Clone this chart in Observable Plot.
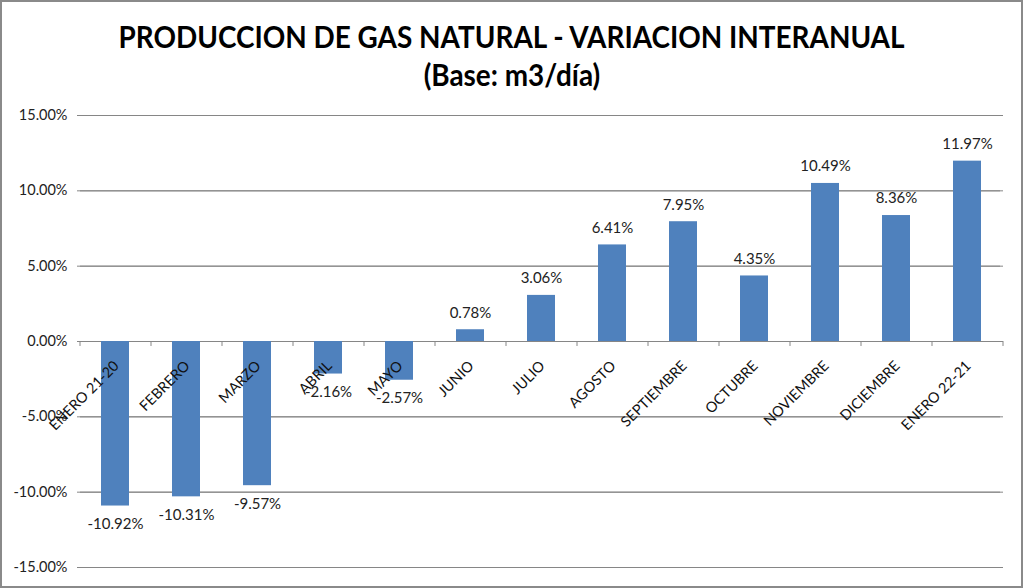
<!DOCTYPE html>
<html>
<head>
<meta charset="utf-8">
<script src="https://cdn.jsdelivr.net/npm/d3@7"></script>
<script src="https://cdn.jsdelivr.net/npm/@observablehq/plot@0.6"></script>
<style>
  html, body { margin: 0; padding: 0; background: #fff; }
  #wrap { width: 1023px; height: 588px; box-sizing: border-box; border: 2px solid #8a8a8a; background: #fff; overflow: hidden; }
  #title { height: 100px; text-align: center; font-family: "Lato", sans-serif; font-weight: bold; color: #000; font-size: 30px; line-height: 38px; padding-top: 15px; box-sizing: border-box; }
  #title span { display: inline-block; transform: scaleX(0.93); white-space: nowrap; }
  #chart svg { display: block; }
</style>
</head>
<body>
<div id="wrap">
  <div id="title"><span>PRODUCCION DE GAS NATURAL - VARIACION INTERANUAL</span><br><span>(Base: m3/día)</span></div>
  <div id="chart"></div>
</div>
<script>
const categories = ["ENERO 21-20", "FEBRERO", "MARZO", "ABRIL", "MAYO", "JUNIO", "JULIO", "AGOSTO", "SEPTIEMBRE", "OCTUBRE", "NOVIEMBRE", "DICIEMBRE", "ENERO 22-21"];
const values = [-10.92, -10.31, -9.57, -2.16, -2.57, 0.78, 3.06, 6.41, 7.95, 4.35, 10.49, 8.36, 11.97];
const yTicks = [-15, -10, -5, 0, 5, 10, 15];

const data = categories.map((c, i) => ({cat: c, v: values[i]}));

const W = 1019, H = 484;
const mL = 78, mR = 18, mT = 13, mB = 19;
const step = (W - mL - mR) / categories.length;
const fmt = d => d.toFixed(2) + "%";
const font = "Lato, sans-serif";
const grid = "#868686";

const chart = Plot.plot({
  width: W,
  height: H,
  marginLeft: mL,
  marginRight: mR,
  marginTop: mT,
  marginBottom: mB,
  style: {fontFamily: font, background: "#fff"},
  x: {domain: categories, paddingInner: 0.6, paddingOuter: 0.3, axis: null},
  y: {domain: [-15, 15], axis: null},
  marks: [
    Plot.ruleY(yTicks, {stroke: grid, strokeWidth: 1}),
    Plot.tickY(yTicks, {frameAnchor: "left", dx: -3, stroke: grid}),
    Plot.ruleX([0], {frameAnchor: "left", stroke: grid}),
    Plot.text(yTicks, {y: d => d, frameAnchor: "left", text: fmt, textAnchor: "end", dx: -13, fontSize: 14.5, fill: "#222"}),
    Plot.barY(data, {x: "cat", y: "v", fill: "#4f81bd"}),
    Plot.ruleX(categories, {x: d => d, y1: 0, y2: -0.33, dx: -step / 2, stroke: grid}),
    Plot.ruleX([categories[categories.length - 1]], {x: d => d, y1: 0, y2: -0.33, dx: step / 2, stroke: grid}),
    Plot.text(data.filter(d => d.v >= 0), {x: "cat", y: "v", text: d => fmt(d.v), dy: -17, fontSize: 15, fill: "#222"}),
    Plot.text(data.filter(d => d.v < 0), {x: "cat", y: "v", text: d => fmt(d.v), dy: 18, fontSize: 15, fill: "#222"}),
    Plot.text(categories, {x: d => d, y: 0, text: d => d, rotate: -45, textAnchor: "end", dx: 1, dy: 22, fontSize: 14.5, fill: "#111"})
  ]
});

document.getElementById("chart").appendChild(chart);
</script>
</body>
</html>
